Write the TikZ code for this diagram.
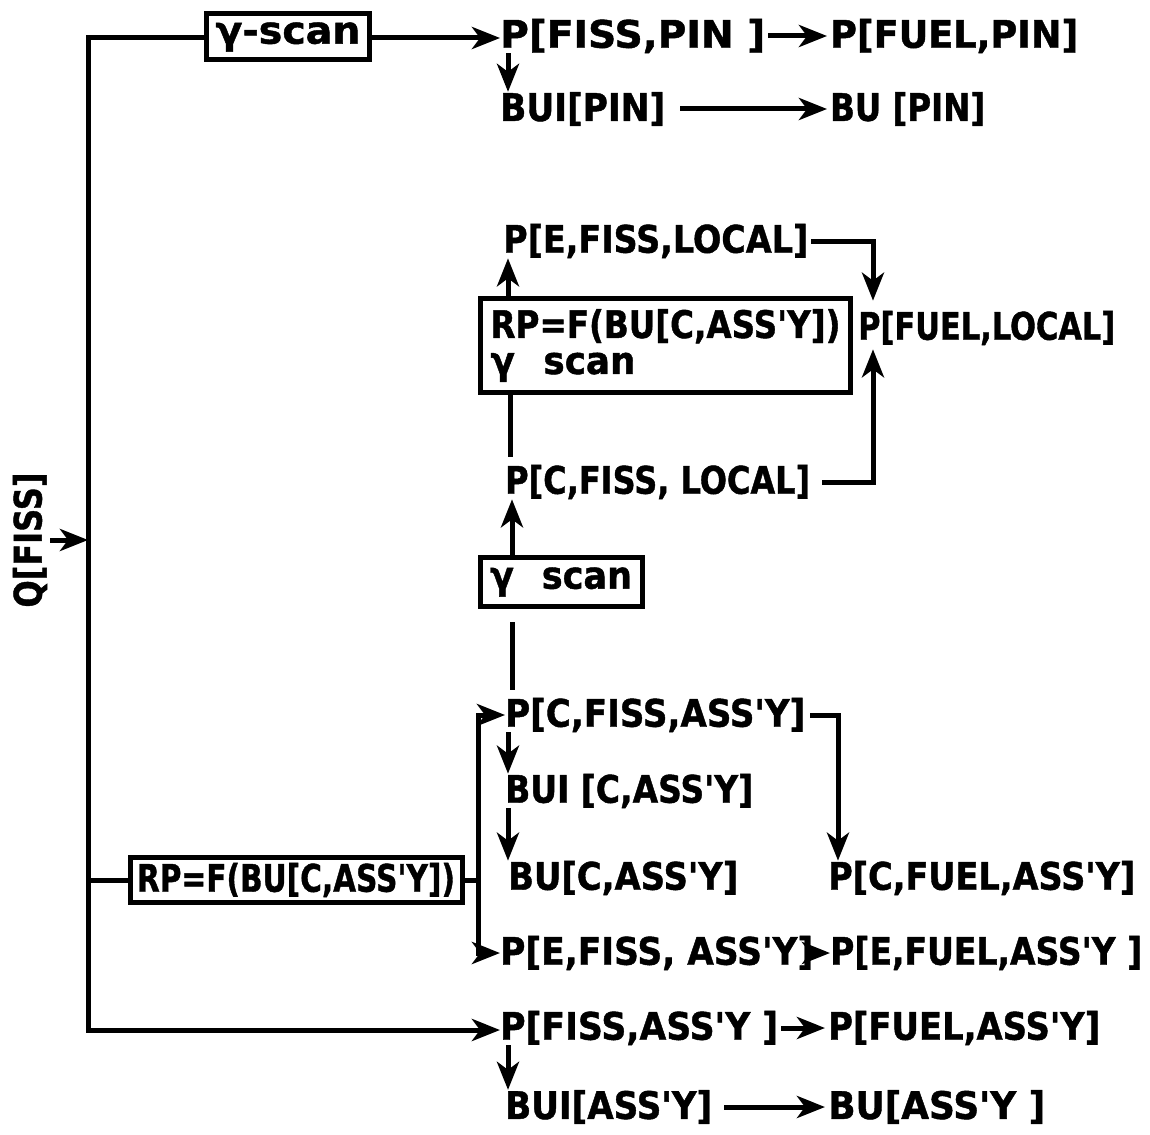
\documentclass[tikz,border=0pt]{standalone}
\usepackage{fontspec}
\newfontfamily\lfont{DejaVu Sans Bold}[FakeBold=1.2]
\usetikzlibrary{arrows.meta}
\newcommand\lbl[2]{\resizebox{#1}{\height}{#2}}
\tikzset{
  lab/.style={anchor=west, inner sep=0pt, font=\fontsize{38}{38}\lfont},
  boxnode/.style={draw, line width=5pt, inner sep=0pt, font=\fontsize{38}{36}\lfont},
  conn/.style={line width=5pt},
  arr/.style={line width=5pt, -{Stealth[length=28pt, width=22pt, inset=8pt]}},
}
\begin{document}
\begin{tikzpicture}[x=1pt, y=-1pt]
\useasboundingbox (0,0) rectangle (1150,1134);
% boxes
\node[boxnode, minimum width=163pt, minimum height=46pt] (gs1) at (288,37) {\lbl{145pt}{γ-scan}};
\node[boxnode, align=left, text width=350pt, minimum width=370pt, minimum height=94pt, anchor=north west] (box2) at (478,296)
  {\lbl{350pt}{RP=F(BU[C,ASS'Y])}\\\lbl{145pt}{γ\hspace{0.8em}scan}};
\node[boxnode, minimum width=162pt, minimum height=49pt] (gs2) at (561,582) {\lbl{142pt}{γ\hspace{0.8em}scan}};
\node[boxnode, minimum width=332pt, minimum height=45pt] (rpbox) at (296,880) {\lbl{318pt}{RP=F(BU[C,ASS'Y])}};
% labels
\node[lab] (pfp)   at (500,36)   {\lbl{265pt}{P[FISS,PIN ]}};
\node[lab] (pfup)  at (830,36)   {\lbl{248pt}{P[FUEL,PIN]}};
\node[lab] (buip)  at (500,109)  {\lbl{165pt}{BUI[PIN]}};
\node[lab] (bup)   at (830,109)  {\lbl{155pt}{BU [PIN]}};
\node[lab] (pefl)  at (503,241)  {\lbl{305pt}{P[E,FISS,LOCAL]}};
\node[lab] (pful)  at (858,328)  {\lbl{257pt}{P[FUEL,LOCAL]}};
\node[lab] (pcfl)  at (505,482)  {\lbl{305pt}{P[C,FISS, LOCAL]}};
\node[lab] (pcfa)  at (505,715)  {\lbl{300pt}{P[C,FISS,ASS'Y]}};
\node[lab] (buica) at (505,791)  {\lbl{248pt}{BUI [C,ASS'Y]}};
\node[lab] (buca)  at (508,878)  {\lbl{230pt}{BU[C,ASS'Y]}};
\node[lab] (pcfua) at (828,878)  {\lbl{307pt}{P[C,FUEL,ASS'Y]}};
\node[lab] (pefa)  at (500,953)  {\lbl{313pt}{P[E,FISS, ASS'Y]}};
\node[lab] (pefua) at (830,953)  {\lbl{312pt}{P[E,FUEL,ASS'Y ]}};
\node[lab] (pfa)   at (500,1028) {\lbl{278pt}{P[FISS,ASS'Y ]}};
\node[lab] (pfua)  at (828,1028) {\lbl{272pt}{P[FUEL,ASS'Y]}};
\node[lab] (buia)  at (505,1107) {\lbl{207pt}{BUI[ASS'Y]}};
\node[lab] (bua)   at (828,1107) {\lbl{217pt}{BU[ASS'Y ]}};
\node[lab, anchor=center, rotate=90] (q) at (30,540) {\lbl{135pt}{Q[FISS]}};
% coordinates
\coordinate (tl) at (88,38);
\coordinate (bl) at (88,1030);
\coordinate (jr) at (88,880);
\coordinate (br) at (478,880);
\coordinate (v1) at (508,0);
\coordinate (v2) at (510,0);
\coordinate (v3) at (512,0);
\coordinate (vr1) at (873,0);
\coordinate (vr2) at (838,0);
% main trunk
\draw[arr] (gs1.west |- tl) -- (tl) -- (bl) -- (pfa.west |- bl);
\draw[arr] (gs1.east |- tl) -- (pfp.west |- tl);
\draw[arr] ([xshift=3pt]q.south) -- (q.south -| tl);
% top group
\draw[arr] ([xshift=3pt]pfp.east) -- ([xshift=-3pt]pfup.west);
\draw[arr] (pfp.south -| v1) -- (buip.north -| v1);
\draw[arr] ([xshift=15pt]buip.east) -- ([xshift=-3pt]bup.west);
% local group
\draw[arr, shorten >=10pt] ([xshift=3pt]pefl.east) -| (pful.north -| vr1);
\draw[arr] (box2.north -| v1) -- (pefl.south -| v1);
\draw[conn, shorten <=8pt] (pcfl.north -| v2) -- (box2.south -| v2);
\draw[arr, shorten >=4pt] ([xshift=12pt]pcfl.east) -| (pful.south -| vr1);
\draw[arr] (gs2.north -| v3) -- (pcfl.south -| v3);
\draw[conn, shorten <=8pt, shorten >=13pt] (pcfa.north -| v3) -- (gs2.south -| v3);
% assembly group
\draw[conn] (jr) -- (rpbox.west);
\draw[arr] (rpbox.east) -- (br) |- (pcfa.west);
\draw[arr] (br) |- (pefa.west);
\draw[arr] ([xshift=5pt]pcfa.east) -| (pcfua.north -| vr2);
\draw[arr] (pcfa.south -| v1) -- (buica.north -| v1);
\draw[arr] (buica.south -| v1) -- (buca.north -| v1);
\draw[arr] (pefa.east) -- (pefua.west);
\draw[arr] ([xshift=3pt]pfa.east) -- ([xshift=-3pt]pfua.west);
\draw[arr] (pfa.south -| v1) -- (buia.north -| v1);
\draw[arr] ([xshift=12pt]buia.east) -- ([xshift=-3pt]bua.west);
\end{tikzpicture}
\end{document}
